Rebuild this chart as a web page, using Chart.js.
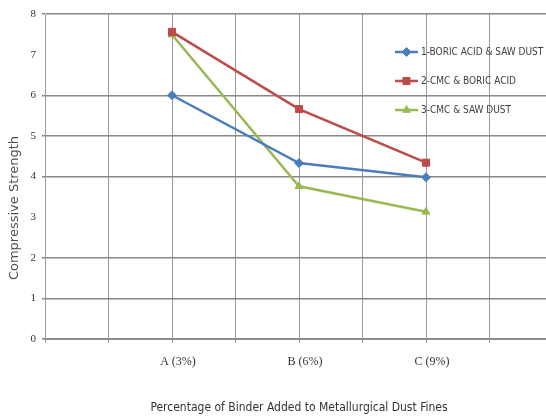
<!DOCTYPE html>
<html>
<head>
<meta charset="utf-8">
<script src="https://cdn.jsdelivr.net/npm/chart.js@4.4.0/dist/chart.umd.min.js"></script>
<style>
  html, body { margin: 0; padding: 0; background: #fff; overflow: hidden; }
  canvas { display: block; }
</style>
</head>
<body>
<canvas id="lineChart" width="565" height="416"></canvas>
<script>
// blank slots are the unlabeled gridline columns of the original chart
const categories = ['', '', 'A (3%)', '', 'B (6%)', '', 'C (9%)', '', ''];
const seriesNames = ['1-BORIC ACID & SAW DUST', '2-CMC & BORIC ACID', '3-CMC & SAW DUST'];
const boricSaw = [null, null, 6.0, null, 4.33, null, 3.98, null, null];
const cmcBoric = [null, null, 7.56, null, 5.66, null, 4.34, null, null];
const cmcSaw = [null, null, 7.49, null, 3.76, null, 3.13, null, null];
const yMin = 0;
const yMax = 8;
const yTitle = 'Compressive Strength';

// legend sits inside the plot over the gridlines, and the y title hangs a bit low, as in the original
const chartText = {
  id: 'chartText',
  afterDraw(chart) {
    const ctx = chart.ctx;
    ctx.save();
    ctx.font = '10px "Liberation Sans Narrow", "DejaVu Sans Condensed", sans-serif';
    ctx.textBaseline = 'middle';
    chart.data.datasets.forEach(function(ds, i) {
      const y = 52 + i * 29;
      ctx.strokeStyle = ds.borderColor;
      ctx.fillStyle = ds.backgroundColor;
      ctx.lineWidth = 2.5;
      ctx.beginPath();
      ctx.moveTo(395, y);
      ctx.lineTo(418, y);
      ctx.stroke();
      ctx.lineWidth = 1;
      Chart.helpers.drawPoint(ctx, { pointStyle: ds.pointStyle, radius: ds.pointRadius, borderWidth: 1, rotation: 0 }, 406.5, y);
      ctx.fillStyle = '#404040';
      ctx.fillText(ds.label, 421, y);
    });

    ctx.translate(15, 208);
    ctx.rotate(-Math.PI / 2);
    ctx.textAlign = 'center';
    ctx.font = '13px "DejaVu Sans", sans-serif';
    ctx.fillStyle = '#505050';
    ctx.fillText(yTitle, 0, 0);
    ctx.restore();
  }
};

const ctx = document.getElementById('lineChart').getContext('2d');
new Chart(ctx, {
  type: 'line',
  data: {
    labels: categories,
    datasets: [{
      label: seriesNames[0],
      data: boricSaw,
      borderColor: '#4a7ebb',
      backgroundColor: '#4a7ebb',
      pointStyle: 'rectRot',
      pointRadius: 4.5
    }, {
      label: seriesNames[1],
      data: cmcBoric,
      borderColor: '#be4b48',
      backgroundColor: '#be4b48',
      pointStyle: 'rect',
      pointRadius: 5
    }, {
      label: seriesNames[2],
      data: cmcSaw,
      borderColor: '#98b954',
      backgroundColor: '#98b954',
      pointStyle: 'triangle',
      pointRadius: 4.5
    }]
  },
  options: {
    responsive: false,
    animation: false,
    spanGaps: true,
    datasets: {
      line: { borderWidth: 2.5, tension: 0, pointBorderWidth: 1 }
    },
    layout: { padding: { top: 14, right: 4, bottom: 0, left: 0 } },
    plugins: {
      legend: { display: false },
      tooltip: { enabled: false }
    },
    scales: {
      x: {
        offset: false,
        grid: { color: '#9a9a9a', lineWidth: 1, tickLength: 4 },
        border: { color: '#8c8c8c', width: 2 },
        ticks: {
          autoSkip: false,
          maxRotation: 0,
          padding: 12,
          labelOffset: 6,
          color: '#333',
          font: { family: '"Liberation Serif", serif', size: 12 }
        },
        title: {
          display: true,
          text: 'Percentage of Binder Added to Metallurgical Dust Fines',
          color: '#333',
          padding: { top: 28, bottom: 1 },
          font: { family: '"Liberation Sans Narrow", "DejaVu Sans Condensed", sans-serif', size: 12 }
        },
        afterFit: function(scale) { scale.height = 77; }
      },
      y: {
        min: yMin,
        max: yMax,
        ticks: {
          stepSize: 1,
          padding: 6,
          color: '#333',
          font: { family: '"Liberation Serif", serif', size: 11 }
        },
        grid: {
          tickLength: 3,
          lineWidth: 1.5,
          // the 3 and 7 gridlines are not visible in the original picture
          color: function(c) {
            return (c.tick && (c.tick.value === 3 || c.tick.value === 7)) ? 'rgba(0,0,0,0)' : '#888';
          }
        },
        border: { color: '#9a9a9a', width: 1 },
        afterFit: function(scale) { scale.width = 45; }
      }
    }
  },
  plugins: [chartText]
});
</script>
</body>
</html>
